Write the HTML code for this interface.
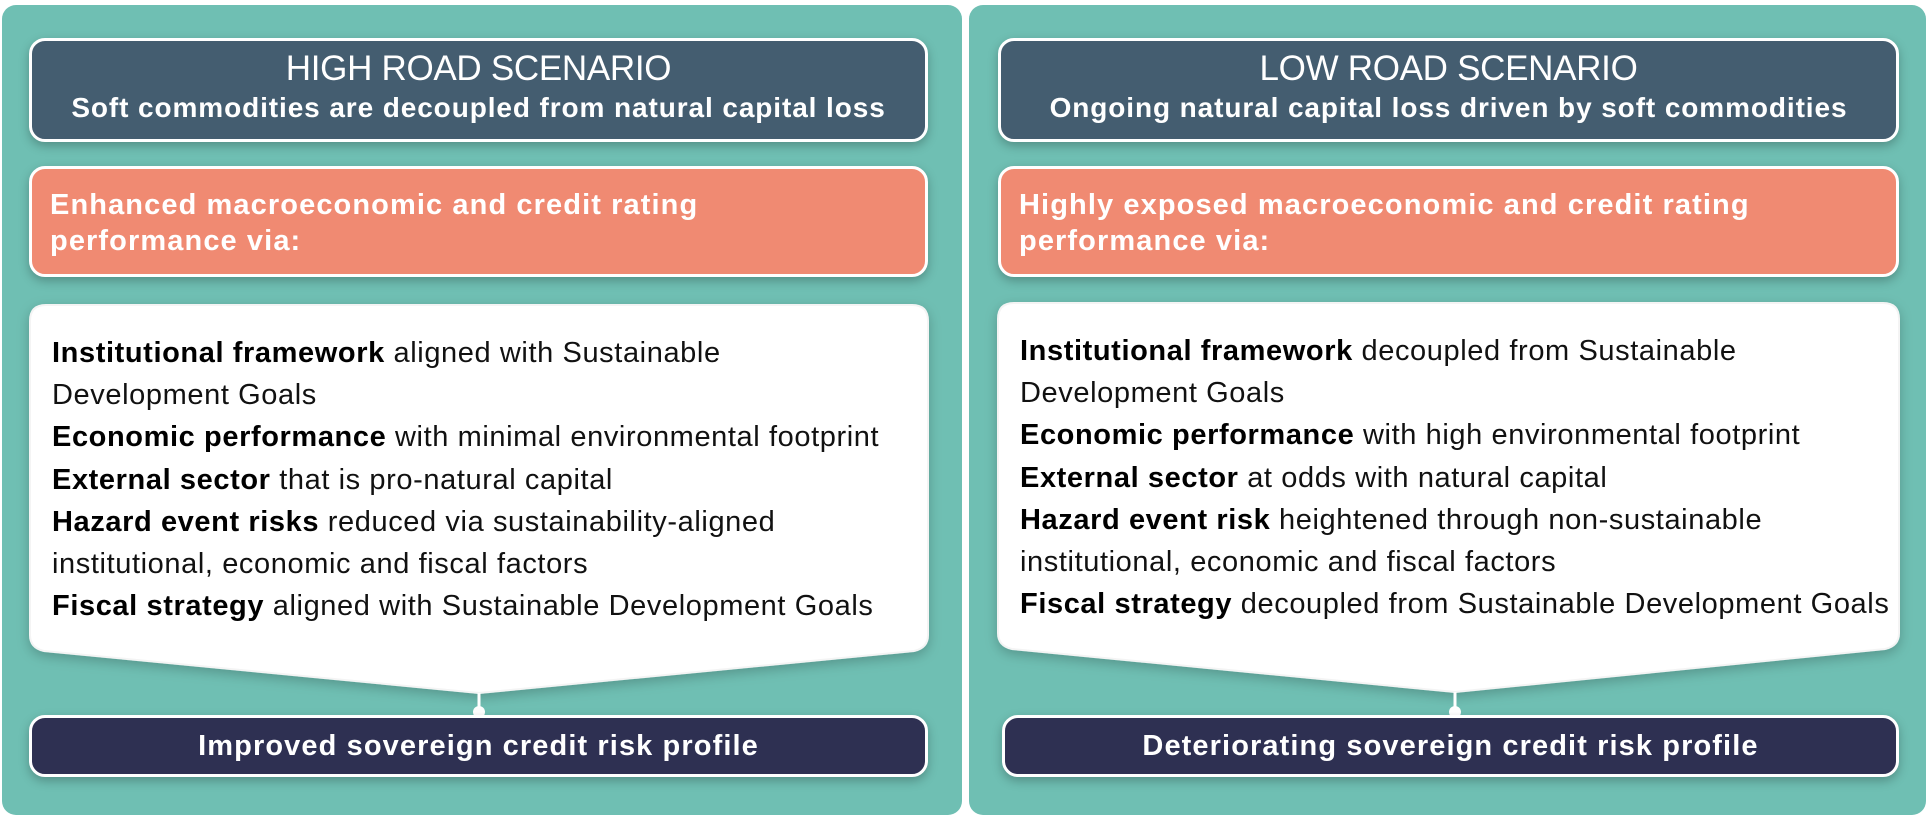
<!DOCTYPE html>
<html><head><meta charset="utf-8">
<style>
*{margin:0;padding:0;box-sizing:border-box}
body{width:1928px;height:816px;background:#fff;position:relative;overflow:hidden;font-family:"Liberation Sans",sans-serif}
.panel{position:absolute;top:5px;height:810px;background:#6fbfb3;border-radius:14px}
.hdr{position:absolute;top:38px;height:104px;background:#445d70;border:3px solid #fff;border-radius:16px;color:#fff;text-align:center;box-shadow:0 4px 10px rgba(0,0,0,.25)}
.hdr .t{font-size:35px;margin-top:8px;line-height:40px;letter-spacing:-0.3px}
.hdr .s{font-size:28px;font-weight:bold;line-height:38px;letter-spacing:0.9px}
.sal{position:absolute;top:166px;height:111px;background:#f08a72;border:3px solid #fff;border-radius:16px;color:#fff;font-weight:bold;font-size:29px;line-height:36px;padding:18px 0 0 18px;letter-spacing:1.1px;box-shadow:0 4px 10px rgba(0,0,0,.25)}
.body{position:absolute;top:305px;font-size:29px;line-height:42.2px;color:#111;padding:27px 0 0 22px;letter-spacing:0.6px;white-space:nowrap}
.body b{color:#000}
.bot{position:absolute;top:715px;height:62px;background:#2e3052;border:3px solid #fff;border-radius:16px;color:#fff;text-align:center;font-weight:bold;font-size:29px;line-height:56px;letter-spacing:1.1px;box-shadow:0 4px 10px rgba(0,0,0,.25)}
svg{position:absolute;left:0;top:0}
</style></head><body>
<div class="panel" style="left:2px;width:960px"></div>
<div class="panel" style="left:969px;width:957px"></div>
<svg width="1928" height="816">
<defs><filter id="sh" x="-5%" y="-5%" width="110%" height="115%"><feDropShadow dx="0" dy="4" stdDeviation="6" flood-color="#000" flood-opacity="0.22"/></filter></defs>
<path filter="url(#sh)" d="M46 305 H912 Q928 305 928 321 V635 Q928 648 914 651 L479 693 L44 651 Q30 648 30 635 V321 Q30 305 46 305 Z" fill="#fff" stroke="#f4f4f4" stroke-width="2"/>
<line x1="479" y1="693" x2="479" y2="713" stroke="#fff" stroke-width="3"/>
<circle cx="479" cy="712" r="6" fill="#fff"/>
<path filter="url(#sh)" d="M1014 303 H1883 Q1899 303 1899 319 V633 Q1899 646 1885 649 L1455 692 L1012 649 Q998 646 998 633 V319 Q998 303 1014 303 Z" fill="#fff" stroke="#f4f4f4" stroke-width="2"/>
<line x1="1455" y1="692" x2="1455" y2="713" stroke="#fff" stroke-width="3"/>
<circle cx="1455" cy="712" r="6" fill="#fff"/>
</svg>
<div class="hdr" style="left:29px;width:899px"><div class="t">HIGH ROAD SCENARIO</div><div class="s">Soft commodities are decoupled from natural capital loss</div></div>
<div class="hdr" style="left:998px;width:901px"><div class="t">LOW ROAD SCENARIO</div><div class="s">Ongoing natural capital loss driven by soft commodities</div></div>
<div class="sal" style="left:29px;width:899px">Enhanced macroeconomic and credit rating<br>performance via:</div>
<div class="sal" style="left:998px;width:901px">Highly exposed macroeconomic and credit rating<br>performance via:</div>
<div class="body" style="left:30px;width:898px"><b>Institutional framework</b> aligned with Sustainable<br>Development Goals<br><b>Economic performance</b> with minimal environmental footprint<br><b>External sector</b> that is pro-natural capital<br><b>Hazard event risks</b> reduced via sustainability-aligned<br>institutional, economic and fiscal factors<br><b>Fiscal strategy</b> aligned with Sustainable Development Goals</div>
<div class="body" style="left:998px;width:901px;top:303px"><b>Institutional framework</b> decoupled from Sustainable<br>Development Goals<br><b>Economic performance</b> with high environmental footprint<br><b>External sector</b> at odds with natural capital<br><b>Hazard event risk</b> heightened through non-sustainable<br>institutional, economic and fiscal factors<br><b>Fiscal strategy</b> decoupled from Sustainable Development Goals</div>
<div class="bot" style="left:29px;width:899px">Improved sovereign credit risk profile</div>
<div class="bot" style="left:1002px;width:897px">Deteriorating sovereign credit risk profile</div>
</body></html>
